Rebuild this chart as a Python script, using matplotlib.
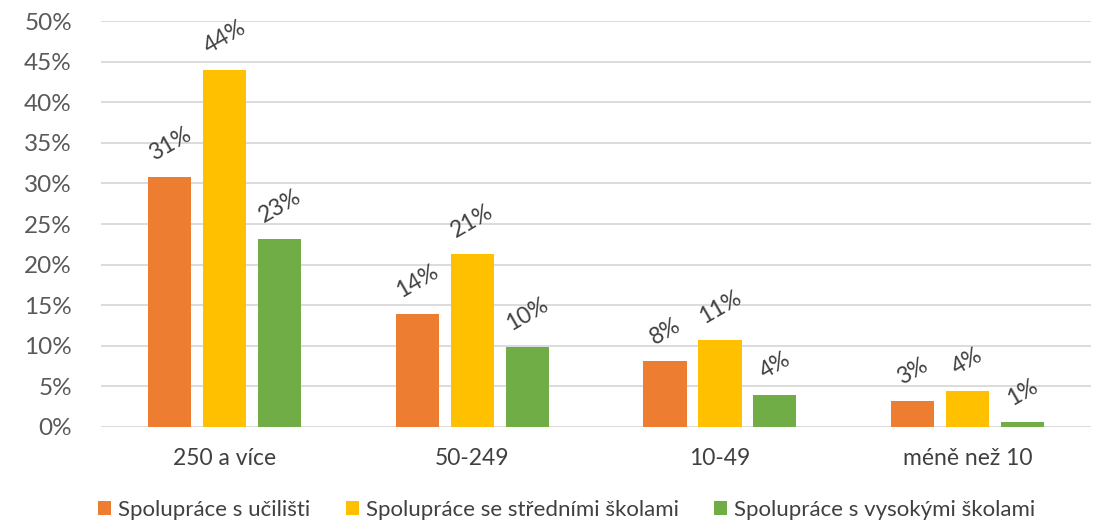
import matplotlib.pyplot as plt
import numpy as np

plt.rcParams['font.family'] = ['Lato', 'DejaVu Sans']

# data
categories = ["250 a více", "50-249", "10-49", "méně než 10"]
series_names = ["Spolupráce s učilišti", "Spolupráce se středními školami",
                "Spolupráce s vysokými školami"]
ucilist = [30.8, 13.9, 8.1, 3.2]
stredni = [44.0, 21.3, 10.7, 4.4]
vysoke = [23.1, 9.9, 3.9, 0.6]
labels_ucilist = ["31%", "14%", "8%", "3%"]
labels_stredni = ["44%", "21%", "11%", "4%"]
labels_vysoke = ["23%", "10%", "4%", "1%"]

colors = ["#ED7D31", "#FFC000", "#70AD47"]

fig = plt.figure(figsize=(10.99, 5.23), dpi=100)
ax = fig.add_axes([0.092, 0.1836, 0.901, 0.7762])

x = np.arange(len(categories))
width = 0.174
step = 0.222
series = [(ucilist, labels_ucilist), (stredni, labels_stredni), (vysoke, labels_vysoke)]
for i, (vals, labs) in enumerate(series):
    pos = x + (i - 1) * step
    bars = ax.bar(pos, vals, width, color=colors[i], label=series_names[i], zorder=3)
    for b, lab in zip(bars, labs):
        ax.annotate(lab, (b.get_x() + b.get_width() / 2, b.get_height()),
                    xytext=(0, 9), textcoords="offset points",
                    ha="center", va="bottom", rotation=30,
                    fontsize=16.5, color="#404040")

ax.set_xlim(-0.5, len(categories) - 0.5)
ax.set_ylim(0, 50)
ax.set_yticks(np.arange(0, 51, 5))
ax.set_yticklabels([f"{v}%" for v in range(0, 51, 5)], fontsize=17.5, color="#595959")
ax.set_xticks(x)
ax.set_xticklabels(categories, fontsize=16.5, color="#404040")
ax.tick_params(axis="both", length=0)
ax.tick_params(axis="x", pad=15)
ax.tick_params(axis="y", pad=21)
ax.grid(axis="y", color="#D9D9D9", linewidth=1.3, zorder=0)
for s in ax.spines.values():
    s.set_visible(False)

ax.legend(loc="center", bbox_to_anchor=(0.47, -0.205), ncol=3, frameon=False,
          fontsize=16, handlelength=0.6, handleheight=0.6, handletextpad=0.3,
          columnspacing=1.6, labelcolor="#404040")

fig.savefig("out.png", dpi=100)
